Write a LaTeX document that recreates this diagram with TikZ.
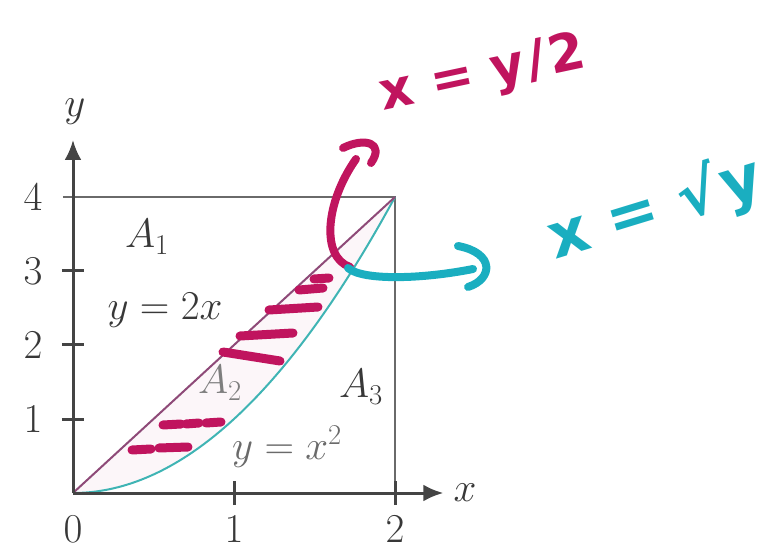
\RequirePackage{fix-cm}
\documentclass[tikz,border=0pt]{standalone}
\usepackage{fontspec}
\newfontfamily\handfont{DejaVu Sans}
\usetikzlibrary{arrows.meta}
\definecolor{mag}{HTML}{C0145E}
\definecolor{cy}{HTML}{1AAEC0}
\definecolor{axgray}{HTML}{444444}
\definecolor{boxgray}{HTML}{6A6A6A}
\definecolor{txtgray}{HTML}{383838}
\definecolor{linepurp}{HTML}{8E4A78}
\definecolor{parteal}{HTML}{3FB4B4}
\begin{document}
\begin{tikzpicture}[x=161pt,y=74pt,
  axisline/.style={axgray,line width=3pt},
  boxline/.style={boxgray,line width=2.6pt},
  lbl/.style={text=txtgray,font=\fontsize{41}{49}\selectfont,inner sep=0pt},
  hatch/.style={mag,line width=9pt,line cap=round},
  handarrow/.style={line width=8pt,line cap=round,line join=round},
  handtext/.style={font=\handfont\bfseries\fontsize{52}{60}\selectfont,inner sep=0pt}]
\useasboundingbox (-73pt,-58pt) rectangle (710pt,493pt);
% named points
\coordinate (O) at (0,0);
\coordinate (P) at (2,4);
% faint shading between curves
\fill[mag!4] (0,0) -- (2,4) -- plot[domain=2:0,samples=60] (\x,{\x*\x}) -- cycle;
% box
\draw[boxline] (-10pt,4) -- (2,4) -- ([yshift=-12pt]2,0);
% curves
\draw[parteal,line width=2pt] plot[domain=0:2,samples=80] (\x,{\x*\x});
\draw[linepurp,line width=2pt] (O) -- (P);
% axes
\draw[axisline,-{Latex[length=20pt,width=17pt]}] (O) -- (2.3,0);
\draw[axisline,-{Latex[length=20pt,width=17pt]}] (O) -- (0,353pt);
\foreach \t in {1,2,3}{\draw[axisline] (-11pt,\t) -- (11pt,\t);}
\foreach \t in {1,2}{\draw[axisline] ([yshift=-12pt]\t,0) -- ([yshift=12pt]\t,0);}
% axis labels
\node[lbl] (xl) at (392pt,0) {$x$};
\node[lbl] (yl) at (2pt,381pt) {$y$};
\node[lbl] (t0) at (0,-36pt) {$0$};
\node[lbl] (t1) at (1,-36pt) {$1$};
\node[lbl] (t2) at (2,-36pt) {$2$};
\node[lbl] (s1) at (-40pt,1) {$1$};
\node[lbl] (s2) at (-40pt,2) {$2$};
\node[lbl] (s3) at (-40pt,3) {$3$};
\node[lbl] (s4) at (-40pt,4) {$4$};
% region labels
\node[lbl] (a1) at (74pt,256pt) {$A_1$};
\node[lbl] (l1) at (92pt,183pt) {$y=2x$};
\node[lbl,text=txtgray!65] (a2) at (147pt,110pt) {$A_2$};
\node[lbl] (a3) at (288pt,106pt) {$A_3$};
\node[lbl,text=txtgray!75] (l2) at (214pt,46pt) {$y=x^2$};
% hatching strokes
\draw[hatch] (59pt,43pt) -- (78pt,44pt);
\draw[hatch] (86pt,45pt) -- (115pt,46pt);
\draw[hatch] (90pt,68pt) -- (108pt,69pt);
\draw[hatch] (113pt,69pt) -- (126pt,70pt);
\draw[hatch] (133pt,70pt) -- (148pt,71pt);
\draw[hatch] (150pt,141pt) -- (207pt,132pt);
\draw[hatch] (167pt,157pt) -- (220pt,160pt);
\draw[hatch] (196pt,183pt) -- (245pt,186pt);
\draw[hatch] (226pt,203pt) -- (250pt,205pt);
\draw[hatch] (241pt,214pt) -- (256pt,215pt);
% magenta hand arrow
\coordinate (ms) at (277pt,226pt);
\coordinate (me) at (283pt,334pt);
\draw[handarrow,mag] (ms) .. controls (248pt,236pt) and (252pt,290pt) .. (me);
\draw[handarrow,mag] (270pt,345pt) .. controls (292pt,356pt) and (312pt,350pt) .. (298pt,330pt);
\node[handtext,text=mag,rotate=12] (mt) at (410pt,418pt) {x = y\kern3pt/\kern3pt2};
% cyan hand arrow
\coordinate (cs) at (275pt,225pt);
\coordinate (ce) at (400pt,224pt);
\draw[handarrow,cy] (cs) .. controls (290pt,212pt) and (350pt,214pt) .. (ce);
\draw[handarrow,cy] (385pt,247pt) .. controls (422pt,240pt) and (420pt,214pt) .. (395pt,206pt);
\node[handtext,text=cy,rotate=17,font=\handfont\bfseries\fontsize{62}{70}\selectfont] (ct) at (582pt,284pt) {x = √\kern4pt y};
\end{tikzpicture}
\end{document}
